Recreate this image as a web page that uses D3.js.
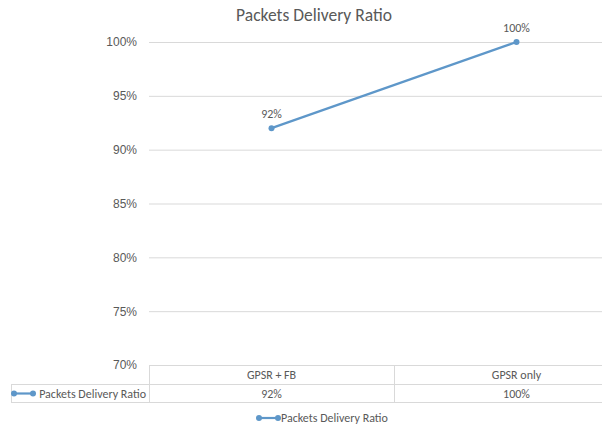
<!DOCTYPE html>
<html>
<head>
<meta charset="utf-8">
<script src="https://cdn.jsdelivr.net/npm/d3@7"></script>
<style>
  html, body { margin: 0; padding: 0; background: #fff; }
  svg { display: block; font-family: Calibri, Carlito, Lato, "Open Sans", "Liberation Sans", sans-serif; }
</style>
</head>
<body>
<div id="chart"></div>
<script>
// chart data
var categories = ['GPSR + FB', 'GPSR only'];
var seriesName = 'Packets Delivery Ratio';
var seriesValues = [0.92, 1.00];
var yTicks = [0.70, 0.75, 0.80, 0.85, 0.90, 0.95, 1.00];

var W = 602, H = 426;
var lineColor = '#5e97c9';
var gridColor = '#d9d9d9';
var textColor = '#595959';
var fs = '12px';

var svg = d3.select('#chart').append('svg').attr('width', W).attr('height', H);

// plot area: left edge at the table, category columns 245px wide
var x = d3.scaleBand().domain(categories).range([149, 639]);
var y = d3.scaleLinear().domain([0.70, 1.00]).range([365, 42]);
var fmt = d3.format('.0%');

// Title
svg.append('text').attr('x', 314).attr('y', 21)
  .attr('text-anchor', 'middle').attr('fill', textColor)
  .attr('font-size', '17.5px').text(seriesName);

// Grid lines + y labels
var yAxis = svg.append('g').attr('transform', 'translate(149,0)')
  .call(d3.axisLeft(y).tickValues(yTicks).tickSize(-(W - 149)).tickPadding(12).tickFormat(fmt));
yAxis.select('.domain').remove();
yAxis.selectAll('line').attr('stroke', gridColor).attr('stroke-width', 1);
yAxis.selectAll('text').attr('fill', textColor).attr('font-size', fs)
  .attr('font-family', 'inherit');

// Line
var pts = categories.map(function(c, i) { return { cat: c, v: seriesValues[i] }; });
svg.append('path').datum(pts)
  .attr('fill', 'none').attr('stroke', lineColor).attr('stroke-width', 2.2)
  .attr('d', d3.line()
    .x(function(d) { return x(d.cat) + x.bandwidth() / 2; })
    .y(function(d) { return y(d.v); }));
svg.selectAll('.pt').data(pts).enter().append('circle')
  .attr('cx', function(d) { return x(d.cat) + x.bandwidth() / 2; })
  .attr('cy', function(d) { return y(d.v); })
  .attr('r', 3).attr('fill', lineColor);
svg.selectAll('.lbl').data(pts).enter().append('text')
  .attr('x', function(d) { return x(d.cat) + x.bandwidth() / 2; })
  .attr('y', function(d) { return y(d.v) - 10; })
  .attr('text-anchor', 'middle').attr('fill', textColor).attr('font-size', fs)
  .text(function(d) { return fmt(d.v); });

// Data table
var rowTop = y(0.70), row1 = rowTop + 19, row2 = row1 + 18;
var tbl = svg.append('g').attr('stroke', gridColor).attr('stroke-width', 1).attr('shape-rendering', 'crispEdges');
tbl.append('line').attr('x1', 149).attr('x2', W).attr('y1', rowTop).attr('y2', rowTop);
tbl.append('line').attr('x1', 11).attr('x2', W).attr('y1', row1).attr('y2', row1);
tbl.append('line').attr('x1', 11).attr('x2', W).attr('y1', row2).attr('y2', row2);
tbl.append('line').attr('x1', 11).attr('x2', 11).attr('y1', row1).attr('y2', row2);
x.domain().forEach(function(c) {
  tbl.append('line').attr('x1', x(c)).attr('x2', x(c)).attr('y1', rowTop).attr('y2', row2);
});

svg.selectAll('.cat').data(categories).enter().append('text')
  .attr('x', function(c) { return x(c) + x.bandwidth() / 2; })
  .attr('y', rowTop + 14).attr('text-anchor', 'middle')
  .attr('fill', textColor).attr('font-size', fs).text(function(c) { return c; });
svg.selectAll('.val').data(pts).enter().append('text')
  .attr('x', function(d) { return x(d.cat) + x.bandwidth() / 2; })
  .attr('y', row1 + 13.5).attr('text-anchor', 'middle')
  .attr('fill', textColor).attr('font-size', fs).text(function(d) { return fmt(d.v); });

// legend key helper
function legendKey(g, x0, yy) {
  g.append('line').attr('x1', x0).attr('x2', x0 + 19).attr('y1', yy).attr('y2', yy)
    .attr('stroke', lineColor).attr('stroke-width', 2.2);
  g.append('circle').attr('cx', x0).attr('cy', yy).attr('r', 3).attr('fill', lineColor);
  g.append('circle').attr('cx', x0 + 19).attr('cy', yy).attr('r', 3).attr('fill', lineColor);
}

// Series label in the table
legendKey(svg, 14, row1 + 9.5);
svg.append('text').attr('x', 146).attr('y', row1 + 13.5).attr('text-anchor', 'end')
  .attr('fill', textColor).attr('font-size', fs).text(seriesName);

// Legend
legendKey(svg, 259, 418);
svg.append('text').attr('x', 281).attr('y', 422)
  .attr('fill', textColor).attr('font-size', fs).text(seriesName);
</script>
</body>
</html>
